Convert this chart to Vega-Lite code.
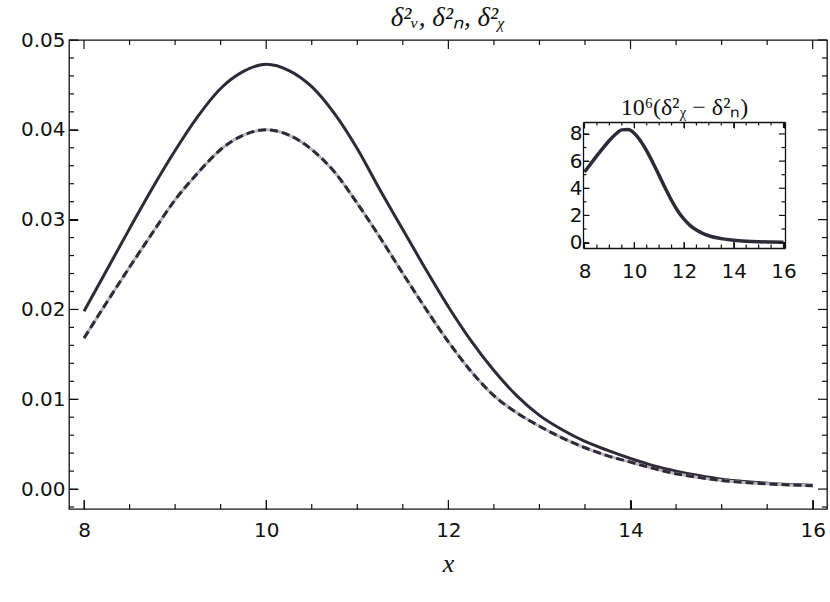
{
  "$schema": "https://vega.github.io/schema/vega-lite/v6.json",
  "width": 758,
  "height": 469,
  "autosize": "none",
  "padding": {"left": 69, "top": 40, "right": 3, "bottom": 93},
  "background": "#ffffff",
  "title": {
    "text": "δ²ᵥ, δ²ₙ, δ²ᵪ",
    "font": "Liberation Serif",
    "fontStyle": "italic",
    "fontWeight": "normal",
    "fontSize": 27,
    "color": "#111111",
    "offset": -2
  },
  "config": {
    "view": {"stroke": "#111111", "strokeWidth": 1.3},
    "axis": {
      "grid": false,
      "labelFont": "DejaVu Sans",
      "labelFontSize": 20,
      "labelColor": "#111111",
      "labelFlush": false,
      "labelOverlap": false,
      "domain": false,
      "domainColor": "#111111",
      "domainWidth": 1.3,
      "tickColor": "#111111"
    },
    "rule": {"color": "#111111", "strokeWidth": 1.2}
  },
  "datasets": {
    "xMajor": [{"t": 8}, {"t": 10}, {"t": 12}, {"t": 14}, {"t": 16}],
    "xMinor": [{"t": 8.5}, {"t": 9}, {"t": 9.5}, {"t": 10.5}, {"t": 11}, {"t": 11.5}, {"t": 12.5}, {"t": 13}, {"t": 13.5}, {"t": 14.5}, {"t": 15}, {"t": 15.5}],
    "yMajor": [{"t": 0}, {"t": 0.01}, {"t": 0.02}, {"t": 0.03}, {"t": 0.04}, {"t": 0.05}],
    "yMinor": [{"t": -0.002}, {"t": 0.002}, {"t": 0.004}, {"t": 0.006}, {"t": 0.008}, {"t": 0.012}, {"t": 0.014}, {"t": 0.016}, {"t": 0.018}, {"t": 0.022}, {"t": 0.024}, {"t": 0.026}, {"t": 0.028}, {"t": 0.032}, {"t": 0.034}, {"t": 0.036}, {"t": 0.038}, {"t": 0.042}, {"t": 0.044}, {"t": 0.046}, {"t": 0.048}],
    "iyMajor": [{"t": 0}, {"t": 2}, {"t": 4}, {"t": 6}, {"t": 8}],
    "iyMinor": [{"t": 1}, {"t": 3}, {"t": 5}, {"t": 7}],
    "V": [
      {"x": 8, "v": 0.0198}, {"x": 8.25, "v": 0.0244}, {"x": 8.5, "v": 0.029}, {"x": 8.75, "v": 0.0335},
      {"x": 9, "v": 0.0377}, {"x": 9.25, "v": 0.0415}, {"x": 9.5, "v": 0.0446}, {"x": 9.75, "v": 0.0465},
      {"x": 10, "v": 0.0473}, {"x": 10.25, "v": 0.0466}, {"x": 10.5, "v": 0.0448}, {"x": 10.75, "v": 0.0418},
      {"x": 11, "v": 0.0379}, {"x": 11.25, "v": 0.0333}, {"x": 11.5, "v": 0.0289}, {"x": 11.75, "v": 0.0245},
      {"x": 12, "v": 0.0203}, {"x": 12.25, "v": 0.0165}, {"x": 12.5, "v": 0.0132}, {"x": 12.75, "v": 0.0104},
      {"x": 13, "v": 0.0082}, {"x": 13.25, "v": 0.0066}, {"x": 13.5, "v": 0.0053}, {"x": 13.75, "v": 0.0043},
      {"x": 14, "v": 0.0034}, {"x": 14.25, "v": 0.0026}, {"x": 14.5, "v": 0.002}, {"x": 14.75, "v": 0.0015},
      {"x": 15, "v": 0.0011}, {"x": 15.25, "v": 0.00085}, {"x": 15.5, "v": 0.00066}, {"x": 15.75, "v": 0.00052},
      {"x": 16, "v": 0.00042}
    ],
    "N": [
      {"x": 8, "v": 0.0168}, {"x": 8.25, "v": 0.0208}, {"x": 8.5, "v": 0.0247}, {"x": 8.75, "v": 0.0285},
      {"x": 9, "v": 0.0322}, {"x": 9.25, "v": 0.0352}, {"x": 9.5, "v": 0.0378}, {"x": 9.75, "v": 0.0394},
      {"x": 10, "v": 0.04}, {"x": 10.25, "v": 0.0394}, {"x": 10.5, "v": 0.0378}, {"x": 10.75, "v": 0.0353},
      {"x": 11, "v": 0.0318}, {"x": 11.25, "v": 0.028}, {"x": 11.5, "v": 0.024}, {"x": 11.75, "v": 0.0201},
      {"x": 12, "v": 0.0164}, {"x": 12.25, "v": 0.0131}, {"x": 12.5, "v": 0.0104}, {"x": 12.75, "v": 0.0085},
      {"x": 13, "v": 0.007}, {"x": 13.25, "v": 0.0057}, {"x": 13.5, "v": 0.0046}, {"x": 13.75, "v": 0.0037},
      {"x": 14, "v": 0.003}, {"x": 14.25, "v": 0.0023}, {"x": 14.5, "v": 0.0017}, {"x": 14.75, "v": 0.0013},
      {"x": 15, "v": 0.00095}, {"x": 15.25, "v": 0.00074}, {"x": 15.5, "v": 0.00058}, {"x": 15.75, "v": 0.00046},
      {"x": 16, "v": 0.00037}
    ],
    "chi": [
      {"x": 8, "v": 0.0168052}, {"x": 8.25, "v": 0.0208058}, {"x": 8.5, "v": 0.0247064}, {"x": 8.75, "v": 0.028507},
      {"x": 9, "v": 0.0322075}, {"x": 9.25, "v": 0.035208}, {"x": 9.5, "v": 0.0378083}, {"x": 9.75, "v": 0.0394083},
      {"x": 10, "v": 0.040008}, {"x": 10.25, "v": 0.0394075}, {"x": 10.5, "v": 0.0378067}, {"x": 10.75, "v": 0.0353059},
      {"x": 11, "v": 0.0318049}, {"x": 11.25, "v": 0.028004}, {"x": 11.5, "v": 0.024003}, {"x": 11.75, "v": 0.0201023},
      {"x": 12, "v": 0.0164017}, {"x": 12.25, "v": 0.0131012}, {"x": 12.5, "v": 0.0104009}, {"x": 12.75, "v": 0.0085007},
      {"x": 13, "v": 0.0070005}, {"x": 13.25, "v": 0.0057004}, {"x": 13.5, "v": 0.0046003}, {"x": 13.75, "v": 0.0037002},
      {"x": 14, "v": 0.0030002}, {"x": 14.25, "v": 0.0023001}, {"x": 14.5, "v": 0.0017001}, {"x": 14.75, "v": 0.0013001},
      {"x": 15, "v": 0.0009501}, {"x": 15.25, "v": 0.00074}, {"x": 15.5, "v": 0.00058}, {"x": 15.75, "v": 0.00046},
      {"x": 16, "v": 0.00037}
    ],
    "diff": [
      {"x": 8, "d": 5.2}, {"x": 8.25, "d": 5.8}, {"x": 8.5, "d": 6.4}, {"x": 8.75, "d": 6.98},
      {"x": 9, "d": 7.52}, {"x": 9.25, "d": 7.98}, {"x": 9.5, "d": 8.3}, {"x": 9.75, "d": 8.32},
      {"x": 10, "d": 8.05}, {"x": 10.25, "d": 7.5}, {"x": 10.5, "d": 6.75}, {"x": 10.75, "d": 5.88},
      {"x": 11, "d": 4.95}, {"x": 11.25, "d": 4.0}, {"x": 11.5, "d": 3.1}, {"x": 11.75, "d": 2.33},
      {"x": 12, "d": 1.72}, {"x": 12.25, "d": 1.25}, {"x": 12.5, "d": 0.92}, {"x": 12.75, "d": 0.68},
      {"x": 13, "d": 0.5}, {"x": 13.5, "d": 0.29}, {"x": 14, "d": 0.17}, {"x": 14.5, "d": 0.1},
      {"x": 15, "d": 0.06}, {"x": 15.5, "d": 0.04}, {"x": 16, "d": 0.025}
    ]
  },
  "layer": [
    {
      "layer": [
        {
          "data": {"name": "V"},
          "mark": {"type": "line", "color": "#2e2a38", "strokeWidth": 3, "interpolate": "monotone"},
          "encoding": {
            "x": {
              "field": "x", "type": "quantitative",
              "scale": {"domain": [7.835, 16.157], "nice": false, "zero": false},
              "axis": {
                "orient": "bottom", "offset": -9,
                "values": [8, 10, 12, 14, 16],
                "format": "d",
                "tickSize": 9,
                "labelPadding": 11,
                "title": "x",
                "titleFont": "Liberation Serif",
                "titleFontStyle": "italic",
                "titleFontWeight": "normal",
                "titleFontSize": 26,
                "titleColor": "#111111",
                "titlePadding": 10
              }
            },
            "y": {
              "field": "v", "type": "quantitative",
              "scale": {"domain": [-0.00222, 0.05], "nice": false, "zero": false},
              "axis": {
                "orient": "left", "offset": -9,
                "values": [0, 0.01, 0.02, 0.03, 0.04, 0.05],
                "format": ".2f",
                "tickSize": 9,
                "labelPadding": 4,
                "title": null
              }
            }
          }
        },
        {
          "data": {"name": "N"},
          "mark": {"type": "line", "color": "#bcb5bd", "strokeWidth": 3, "interpolate": "monotone"},
          "encoding": {
            "x": {"field": "x", "type": "quantitative", "axis": null},
            "y": {"field": "v", "type": "quantitative", "axis": null}
          }
        },
        {
          "data": {"name": "chi"},
          "mark": {"type": "line", "color": "#2e2a38", "strokeWidth": 3, "strokeDash": [8, 4], "interpolate": "monotone"},
          "encoding": {
            "x": {"field": "x", "type": "quantitative", "axis": null},
            "y": {"field": "v", "type": "quantitative", "axis": null}
          }
        },
        {
          "data": {"name": "xMajor"},
          "mark": "rule",
          "encoding": {
            "x": {"field": "t", "type": "quantitative", "axis": null},
            "y": {"datum": -0.00222, "axis": null},
            "y2": {"datum": -0.00122}
          }
        },
        {
          "data": {"name": "xMajor"},
          "mark": "rule",
          "encoding": {
            "x": {"field": "t", "type": "quantitative", "axis": null},
            "y": {"datum": 0.05, "axis": null},
            "y2": {"datum": 0.049}
          }
        },
        {
          "data": {"name": "xMinor"},
          "mark": "rule",
          "encoding": {
            "x": {"field": "t", "type": "quantitative", "axis": null},
            "y": {"datum": -0.00222, "axis": null},
            "y2": {"datum": -0.00166}
          }
        },
        {
          "data": {"name": "xMinor"},
          "mark": "rule",
          "encoding": {
            "x": {"field": "t", "type": "quantitative", "axis": null},
            "y": {"datum": 0.05, "axis": null},
            "y2": {"datum": 0.04944}
          }
        },
        {
          "data": {"name": "yMajor"},
          "mark": "rule",
          "encoding": {
            "y": {"field": "t", "type": "quantitative", "axis": null},
            "x": {"datum": 7.835, "axis": null},
            "x2": {"datum": 7.934}
          }
        },
        {
          "data": {"name": "yMajor"},
          "mark": "rule",
          "encoding": {
            "y": {"field": "t", "type": "quantitative", "axis": null},
            "x": {"datum": 16.157, "axis": null},
            "x2": {"datum": 16.058}
          }
        },
        {
          "data": {"name": "yMinor"},
          "mark": "rule",
          "encoding": {
            "y": {"field": "t", "type": "quantitative", "axis": null},
            "x": {"datum": 7.835, "axis": null},
            "x2": {"datum": 7.89}
          }
        },
        {
          "data": {"name": "yMinor"},
          "mark": "rule",
          "encoding": {
            "y": {"field": "t", "type": "quantitative", "axis": null},
            "x": {"datum": 16.157, "axis": null},
            "x2": {"datum": 16.102}
          }
        }
      ],
      "resolve": {"axis": {"x": "independent", "y": "independent"}}
    },
    {
      "layer": [
        {
          "data": {"name": "diff"},
          "mark": {"type": "line", "color": "#2e2a38", "strokeWidth": 3.5, "interpolate": "monotone"},
          "encoding": {
            "x": {
              "field": "x", "type": "quantitative",
              "scale": {"domain": [7.94, 16.06], "range": [514, 716], "nice": false, "zero": false},
              "axis": {
                "orient": "bottom", "offset": -267,
                "values": [8, 10, 12, 14, 16],
                "format": "d",
                "tickSize": 6,
                "labelPadding": 13,
                "title": null
              }
            },
            "y": {
              "field": "d", "type": "quantitative",
              "scale": {"domain": [-0.4, 8.88], "range": [208, 82], "nice": false, "zero": false},
              "axis": {
                "orient": "left", "offset": -520,
                "values": [0, 2, 4, 6, 8],
                "format": "d",
                "tickSize": 6,
                "labelPadding": 1,
                "title": null
              }
            }
          }
        },
        {
          "data": {"name": "diff"},
          "mark": {"type": "line", "strokeOpacity": 0},
          "encoding": {
            "x": {
              "field": "x", "type": "quantitative",
              "axis": {
                "orient": "top", "offset": -88,
                "values": [8, 10, 12, 14, 16],
                "labels": false,
                "tickSize": 6,
                "title": "10⁶(δ²ᵪ − δ²ₙ)",
                "titleFont": "Liberation Serif",
                "titleFontStyle": "normal",
                "titleFontWeight": "normal",
                "titleFontSize": 24,
                "titleColor": "#111111",
                "titlePadding": 2
              }
            },
            "y": {"field": "d", "type": "quantitative", "axis": null}
          }
        },
        {
          "data": {"name": "diff"},
          "mark": {"type": "line", "strokeOpacity": 0},
          "encoding": {
            "x": {
              "field": "x", "type": "quantitative",
              "axis": {"orient": "bottom", "offset": -261, "domain": true, "ticks": false, "labels": false, "title": null}
            },
            "y": {
              "field": "d", "type": "quantitative",
              "axis": {"orient": "left", "offset": -514, "domain": true, "ticks": false, "labels": false, "title": null}
            }
          }
        },
        {
          "data": {"name": "diff"},
          "mark": {"type": "line", "strokeOpacity": 0},
          "encoding": {
            "x": {
              "field": "x", "type": "quantitative",
              "axis": {"orient": "top", "offset": -82, "domain": true, "ticks": false, "labels": false, "title": null}
            },
            "y": {
              "field": "d", "type": "quantitative",
              "axis": {"orient": "right", "offset": -42, "domain": true, "ticks": false, "labels": false, "title": null}
            }
          }
        },
        {
          "data": {"name": "xMajor"},
          "mark": "rule",
          "encoding": {
            "x": {"field": "t", "type": "quantitative", "axis": null},
            "y": {"datum": -0.4, "axis": null},
            "y2": {"datum": 0.042}
          }
        },
        {
          "data": {"name": "xMajor"},
          "mark": "rule",
          "encoding": {
            "x": {"field": "t", "type": "quantitative", "axis": null},
            "y": {"datum": 8.88, "axis": null},
            "y2": {"datum": 8.438}
          }
        },
        {
          "data": {"name": "xMinor"},
          "mark": "rule",
          "encoding": {
            "x": {"field": "t", "type": "quantitative", "axis": null},
            "y": {"datum": -0.4, "axis": null},
            "y2": {"datum": -0.142}
          }
        },
        {
          "data": {"name": "xMinor"},
          "mark": "rule",
          "encoding": {
            "x": {"field": "t", "type": "quantitative", "axis": null},
            "y": {"datum": 8.88, "axis": null},
            "y2": {"datum": 8.622}
          }
        },
        {
          "data": {"name": "iyMajor"},
          "mark": "rule",
          "encoding": {
            "y": {"field": "t", "type": "quantitative", "axis": null},
            "x": {"datum": 7.94, "axis": null},
            "x2": {"datum": 8.181}
          }
        },
        {
          "data": {"name": "iyMajor"},
          "mark": "rule",
          "encoding": {
            "y": {"field": "t", "type": "quantitative", "axis": null},
            "x": {"datum": 16.06, "axis": null},
            "x2": {"datum": 15.819}
          }
        },
        {
          "data": {"name": "iyMinor"},
          "mark": "rule",
          "encoding": {
            "y": {"field": "t", "type": "quantitative", "axis": null},
            "x": {"datum": 7.94, "axis": null},
            "x2": {"datum": 8.081}
          }
        },
        {
          "data": {"name": "iyMinor"},
          "mark": "rule",
          "encoding": {
            "y": {"field": "t", "type": "quantitative", "axis": null},
            "x": {"datum": 16.06, "axis": null},
            "x2": {"datum": 15.919}
          }
        }
      ],
      "resolve": {"axis": {"x": "independent", "y": "independent"}}
    }
  ],
  "resolve": {
    "scale": {"x": "independent", "y": "independent"},
    "axis": {"x": "independent", "y": "independent"}
  }
}
